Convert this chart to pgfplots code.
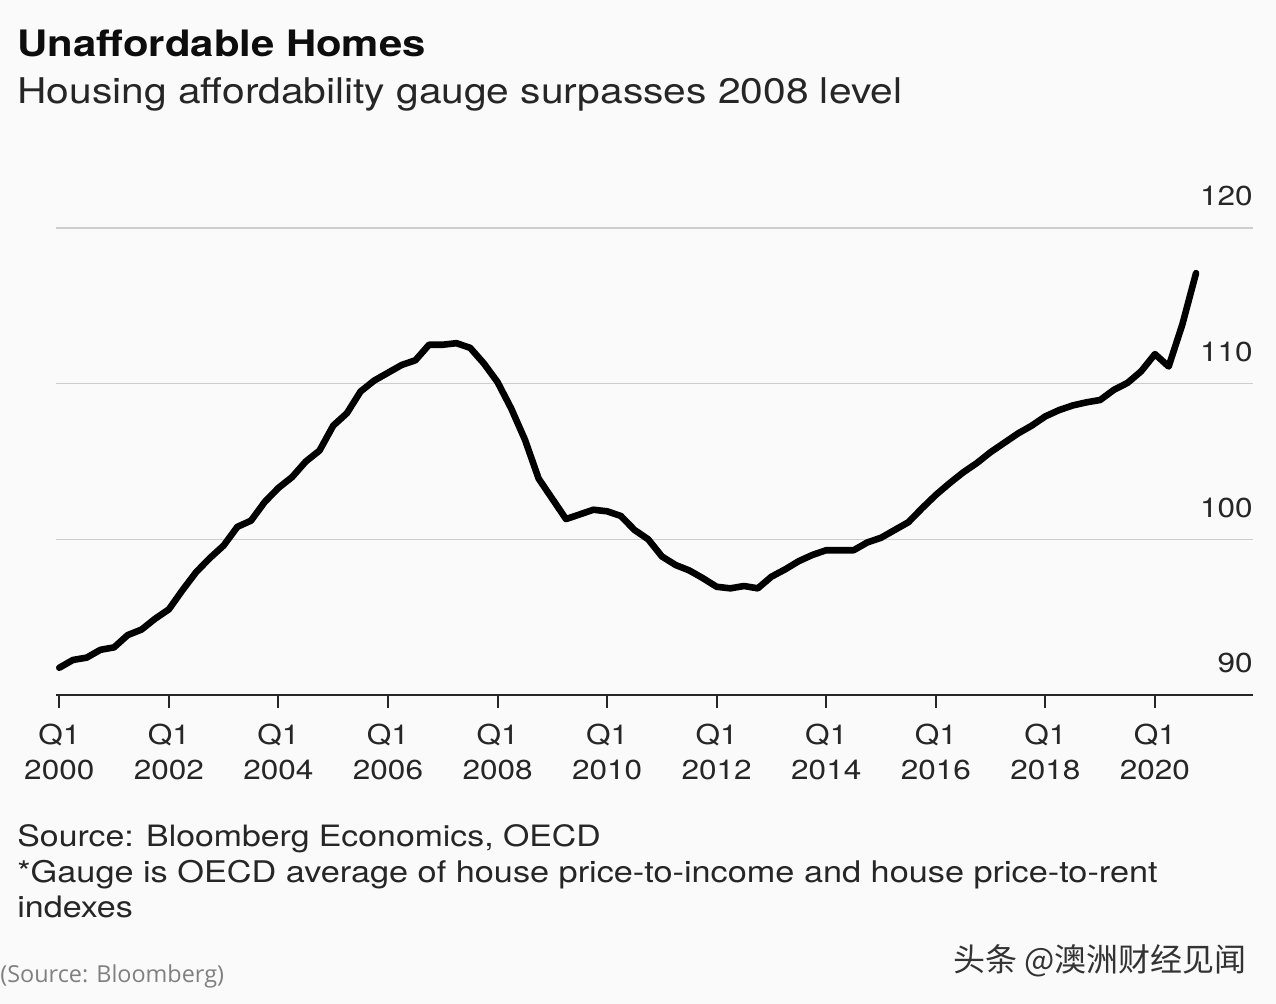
\documentclass[border=0pt]{standalone}
\usepackage{fontspec}
\setmainfont{TeX Gyre Heros}[FakeStretch=1.15]
\newfontfamily\cjk{Noto Sans CJK SC}
\newfontfamily\osans{Open Sans}
\usepackage{pgfplots}
\pgfplotsset{compat=1.18}
\definecolor{bg}{RGB}{250,250,250}
\definecolor{txt}{RGB}{38,38,38}
\definecolor{gridc}{RGB}{205,205,205}
\pgfplotstableread{
x y
2000.00 91.75
2000.25 92.25
2000.50 92.4
2000.75 92.9
2001.00 93.06
2001.25 93.85
2001.50 94.2
2001.75 94.9
2002.00 95.5
2002.25 96.74
2002.50 97.9
2002.75 98.8
2003.00 99.6
2003.25 100.8
2003.50 101.2
2003.75 102.4
2004.00 103.3
2004.25 104.0
2004.50 105.0
2004.75 105.7
2005.00 107.3
2005.25 108.1
2005.50 109.5
2005.75 110.2
2006.00 110.7
2006.25 111.2
2006.50 111.5
2006.75 112.5
2007.00 112.5
2007.25 112.6
2007.50 112.3
2007.75 111.3
2008.00 110.1
2008.25 108.4
2008.50 106.4
2008.75 103.9
2009.00 102.6
2009.25 101.3
2009.50 101.6
2009.75 101.9
2010.00 101.8
2010.25 101.5
2010.50 100.6
2010.75 100.0
2011.00 98.9
2011.25 98.35
2011.50 98.0
2011.75 97.5
2012.00 96.95
2012.25 96.85
2012.50 97.0
2012.75 96.85
2013.00 97.6
2013.25 98.07
2013.50 98.6
2013.75 99.0
2014.00 99.3
2014.25 99.3
2014.50 99.3
2014.75 99.8
2015.00 100.1
2015.25 100.6
2015.50 101.1
2015.75 102.0
2016.00 102.85
2016.25 103.6
2016.50 104.3
2016.75 104.9
2017.00 105.6
2017.25 106.2
2017.50 106.8
2017.75 107.3
2018.00 107.9
2018.25 108.3
2018.50 108.6
2018.75 108.8
2019.00 108.95
2019.25 109.6
2019.50 110.05
2019.75 110.8
2020.00 111.9
2020.25 111.1
2020.50 113.8
2020.75 117.1
}\gauge
\begin{document}
\begin{tikzpicture}[x=1pt,y=1pt]
\fill[bg] (0,0) rectangle (638,502);
\begin{axis}[
  at={(28pt,154.5pt)}, anchor=south west,
  scale only axis, width=598.5pt, height=233.5pt,
  xmin=1999.94, xmax=2021.79, ymin=90, ymax=120,
  clip=false,
  axis line style={draw=none},
  xtick={2000,2002,2004,2006,2008,2010,2012,2014,2016,2018,2020},
  xticklabels={{Q1\\2000},{Q1\\2002},{Q1\\2004},{Q1\\2006},{Q1\\2008},{Q1\\2010},{Q1\\2012},{Q1\\2014},{Q1\\2016},{Q1\\2018},{Q1\\2020}},
  xtick pos=bottom,
  xtick align=outside,
  major tick length=7pt,
  xtick style={draw=none},
  x tick label style={align=center, anchor=north, inner sep=0pt, text=txt, yshift=-7.5pt,
     font=\fontsize{13.7}{17.3}\selectfont},
  ytick={90,100,110,120},
  yticklabels={90,100,110,120},
  ytick style={draw=none},
  yticklabel pos=right,
  y tick label style={anchor=base east, inner sep=0pt, yshift=11pt, text=txt,
     font=\fontsize{13.7}{16}\selectfont},
  ymajorgrids,
  grid style={gridc, line width=0.75pt},
]
\draw[line width=1.2pt, color=black!85] (rel axis cs:0,0) -- (rel axis cs:1,0);
\pgfplotsinvokeforeach{2000,2002,2004,2006,2008,2010,2012,2014,2016,2018,2020}{
  \draw[line width=1pt, color=black!85] (axis cs:#1,90) -- ([yshift=-6.6pt]axis cs:#1,90);
}
\addplot[black, line width=3.3pt, line join=round, line cap=round] table[x=x,y=y]{\gauge};
\end{axis}
\node[anchor=base west, inner sep=0pt, text=black!95] at (8.5,473.6) {\fontsize{18.2}{20}\selectfont\bfseries Unaffordable Homes};
\node[anchor=base west, inner sep=0pt, text=txt] at (8.5,450) {\fontsize{17.7}{20}\selectfont Housing affordability gauge surpasses 2008 level};
\node[anchor=base west, inner sep=0pt, text=txt] at (8.5,78.6) {\fontsize{14.7}{18}\selectfont Source: Bloomberg Economics, OECD};
\node[anchor=base west, inner sep=0pt, text=txt] at (8.5,60.5) {\fontsize{14.9}{18}\selectfont *Gauge is OECD average of house price-to-income and house price-to-rent};
\node[anchor=base west, inner sep=0pt, text=txt] at (8.5,43) {\fontsize{14.8}{18}\selectfont indexes};
\node[anchor=base west, inner sep=0pt, text=black!50] at (0,10.5) {\osans\fontsize{11.7}{14}\selectfont (Source: Bloomberg)};
\node[anchor=base east, inner sep=0pt, text=black!80] at (623.5,16) {\cjk\fontsize{16}{18}\selectfont 头条 @澳洲财经见闻};
\end{tikzpicture}
\end{document}
